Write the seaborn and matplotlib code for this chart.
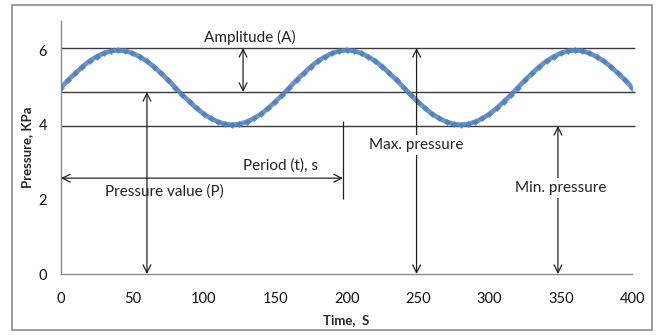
import numpy as np
import pandas as pd
import matplotlib
matplotlib.use('Agg')
import matplotlib.pyplot as plt
import seaborn as sns
from matplotlib.patches import Rectangle

# data: pressure every 5 s
time_s = list(range(0, 405, 5))
one_period = [5.00, 5.20, 5.38, 5.56, 5.71, 5.83, 5.92, 5.98, 6.00, 5.98, 5.92, 5.83, 5.71, 5.56, 5.38, 5.20,
              5.00, 4.80, 4.62, 4.44, 4.29, 4.17, 4.08, 4.02, 4.00, 4.02, 4.08, 4.17, 4.29, 4.44, 4.62, 4.80]
last_half = [5.00, 5.20, 5.38, 5.56, 5.71, 5.83, 5.92, 5.98, 6.00, 5.98, 5.92, 5.83, 5.71, 5.56, 5.38, 5.20, 5.00]
pressure = one_period + one_period + last_half

x_ticks = [0, 50, 100, 150, 200, 250, 300, 350, 400]
y_ticks = [0, 2, 4, 6]

# reference levels
max_level = 6.06
mean_level = 4.88
min_level = 3.97

df = pd.DataFrame({'Time': time_s, 'Pressure': pressure})

sns.set_style('white')
plt.rcParams['font.family'] = ['Lato', 'DejaVu Sans']

fig = plt.figure(figsize=(6.65, 3.35), dpi=100)
ax = fig.add_axes([0.0917, 0.182, 0.859, 0.755])

# outer frame
fig.patches.append(Rectangle((12 / 665, 5 / 335), 640 / 665, 325 / 335, transform=fig.transFigure,
                             fill=False, edgecolor='#8c8c8c', linewidth=1.2))

# horizontal reference lines
ax.hlines([max_level, mean_level, min_level], 0, 402, colors='#3a3a3a', linewidth=1.0, clip_on=False, zorder=1)

sns.lineplot(data=df, x='Time', y='Pressure', ax=ax, color='#4F81BD', linewidth=3.4, alpha=0.85,
             marker='D', markersize=3.5, markeredgewidth=0, zorder=3)

ax.set_xlim(0, 400)
ax.set_ylim(0, 6.78)
ax.set_xticks(x_ticks)
ax.set_yticks(y_ticks)
ax.tick_params(axis='both', direction='in', length=4, color='#8c8c8c', labelsize=10.5, labelcolor='#111111', pad=13)
ax.tick_params(axis='y', pad=10)
for s in ['top', 'right']:
    ax.spines[s].set_visible(False)
for s in ['left', 'bottom']:
    ax.spines[s].set_color('#8c8c8c')
    ax.spines[s].set_linewidth(1.0)

ax.set_xlabel('Time,  S', fontsize=9.5, fontweight='bold', labelpad=6)
ax.set_ylabel('Pressure, KPa', fontsize=9.5, fontweight='bold', labelpad=4)

arrow = dict(arrowstyle='<->', color='#222222', lw=0.9, mutation_scale=14, shrinkA=0, shrinkB=0)
txt_kw = dict(fontsize=11, color='#222222', ha='center', va='center')

# amplitude
ax.annotate('', xy=(127.5, max_level), xytext=(127.5, mean_level), arrowprops=arrow)
ax.text(132.4, 6.33, 'Amplitude (A)', **txt_kw)

# pressure value
ax.annotate('', xy=(60.2, mean_level), xytext=(60.2, 0), arrowprops=arrow, annotation_clip=False)
ax.text(72.5, 2.2, 'Pressure value (P)', **txt_kw)

# period
ax.annotate('', xy=(197.5, 2.57), xytext=(0, 2.57), arrowprops=arrow)
ax.vlines(197.5, 2.0, 4.1, colors='#222222', linewidth=0.9)
ax.text(153.4, 2.9, 'Period (t), s', **txt_kw)

# max pressure
ax.annotate('', xy=(249, max_level), xytext=(249, 0), arrowprops=arrow)
ax.text(249, 3.46, 'Max. pressure', bbox=dict(facecolor='white', edgecolor='none', pad=2), zorder=5, **txt_kw)

# min pressure
ax.annotate('', xy=(348, min_level), xytext=(348, 0), arrowprops=arrow)
ax.text(349.6, 2.31, 'Min. pressure', bbox=dict(facecolor='white', edgecolor='none', pad=2), zorder=5, **txt_kw)

fig.savefig('out.png', dpi=100)
